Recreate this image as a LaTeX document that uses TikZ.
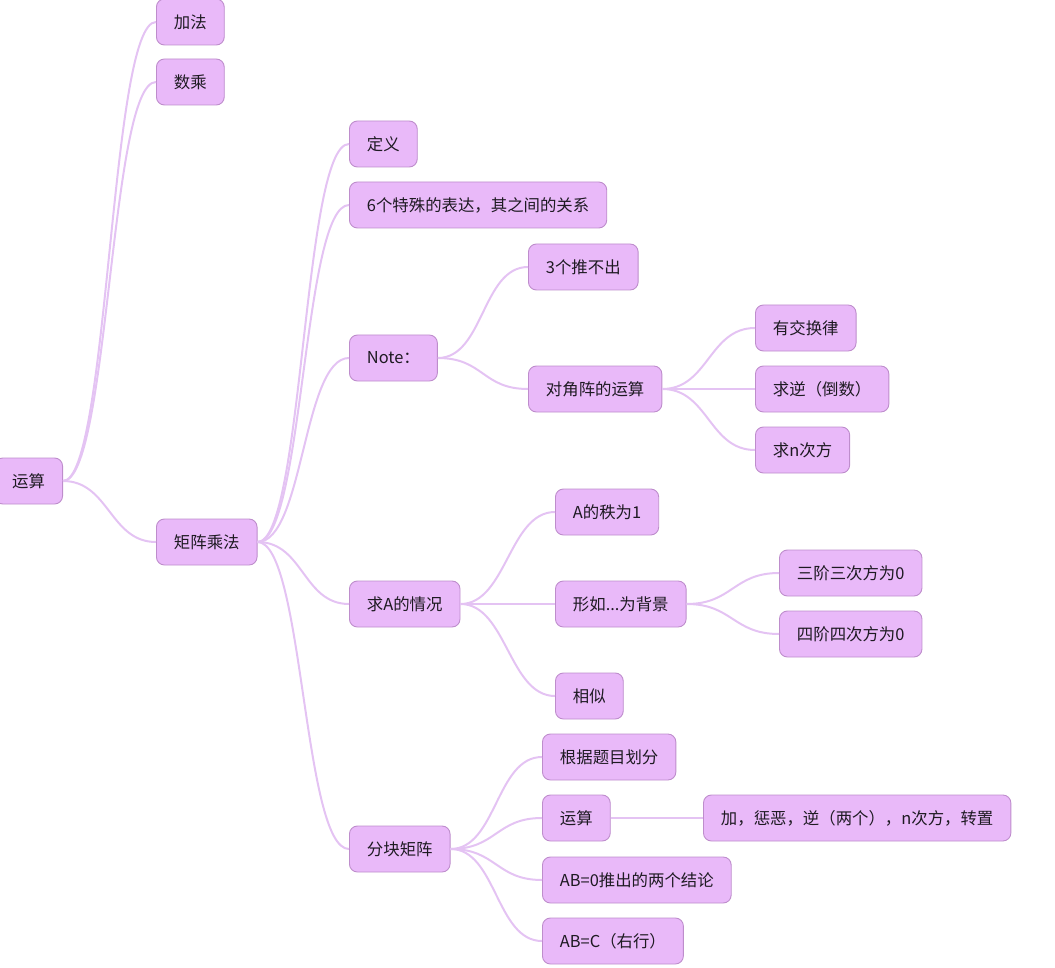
\documentclass[tikz,border=0pt]{standalone}
\usepackage{fontspec}
\setmainfont{Noto Sans CJK SC}
\usepackage{tikz}
\definecolor{topicfill}{HTML}{E9B9F9}
\definecolor{topicdraw}{HTML}{BE8DCC}
\definecolor{linkcol}{HTML}{E4C3F3}
\definecolor{topictext}{HTML}{1E1A22}
\tikzset{
  topic/.style={
    rectangle,
    rounded corners=8pt,
    draw=topicdraw,
    line width=0.9pt,
    fill=topicfill,
    text=topictext,
    anchor=west,
    inner xsep=17.5pt,
    minimum height=46pt,
    font=\fontsize{16.4}{19}\selectfont
  },
  link/.style={draw=linkcol, line width=2pt},
  branch/.style={to path={.. controls ([xshift=46pt]\tikztostart) and ([xshift=-46pt]\tikztotarget) .. (\tikztotarget)}}
}

\begin{document}
\begin{tikzpicture}[x=1pt, y=-1pt]
  \useasboundingbox (0,0) rectangle (1055,968);

  \node[topic, anchor=east] (root) at (63,481) {运算};
  \node[topic] (add) at (156,22) {加法};
  \node[topic] (scalar) at (156,82) {数乘};
  \node[topic] (matmul) at (156,542) {矩阵乘法};

  \node[topic] (defn) at (349,144) {定义};
  \node[topic] (six) at (349,205) {6个特殊的表达，其之间的关系};
  \node[topic] (note) at (349,358) {Note：};
  \node[topic] (noinfer) at (528,267) {3个推不出};
  \node[topic] (diag) at (528,389) {对角阵的运算};
  \node[topic] (commute) at (755,328) {有交换律};
  \node[topic] (inverse) at (755,389) {求逆（倒数）};
  \node[topic] (npower) at (755,450) {求n次方};

  \node[topic] (findA) at (349,604) {求A的情况};
  \node[topic] (rankone) at (555,512) {A的秩为1};
  \node[topic] (shape) at (555,604) {形如...为背景};
  \node[topic] (third) at (779,573) {三阶三次方为0};
  \node[topic] (fourth) at (779,634) {四阶四次方为0};
  \node[topic] (similar) at (555,696) {相似};

  \node[topic] (block) at (349,849) {分块矩阵};
  \node[topic] (split) at (542,757) {根据题目划分};
  \node[topic] (blockop) at (542,818) {运算};
  \node[topic] (oplist) at (703,818) {加，惩恶，逆（两个），n次方，转置};
  \node[topic] (abzero) at (542,880) {AB=0推出的两个结论};
  \node[topic] (abc) at (542,941) {AB=C（右行）};

  \draw[link] (root.east) to[branch] (add.west);
  \draw[link] (root.east) to[branch] (scalar.west);
  \draw[link] (root.east) to[branch] (matmul.west);

  \draw[link] (matmul.east) to[branch] (defn.west);
  \draw[link] (matmul.east) to[branch] (six.west);
  \draw[link] (matmul.east) to[branch] (note.west);
  \draw[link] (matmul.east) to[branch] (findA.west);
  \draw[link] (matmul.east) to[branch] (block.west);

  \draw[link] (note.east) to[branch] (noinfer.west);
  \draw[link] (note.east) to[branch] (diag.west);
  \draw[link] (diag.east) to[branch] (commute.west);
  \draw[link] (diag.east) to[branch] (inverse.west);
  \draw[link] (diag.east) to[branch] (npower.west);

  \draw[link] (findA.east) to[branch] (rankone.west);
  \draw[link] (findA.east) to[branch] (shape.west);
  \draw[link] (findA.east) to[branch] (similar.west);
  \draw[link] (shape.east) to[branch] (third.west);
  \draw[link] (shape.east) to[branch] (fourth.west);

  \draw[link] (block.east) to[branch] (split.west);
  \draw[link] (block.east) to[branch] (blockop.west);
  \draw[link] (block.east) to[branch] (abzero.west);
  \draw[link] (block.east) to[branch] (abc.west);
  \draw[link] (blockop.east) to[branch] (oplist.west);
\end{tikzpicture}
\end{document}
